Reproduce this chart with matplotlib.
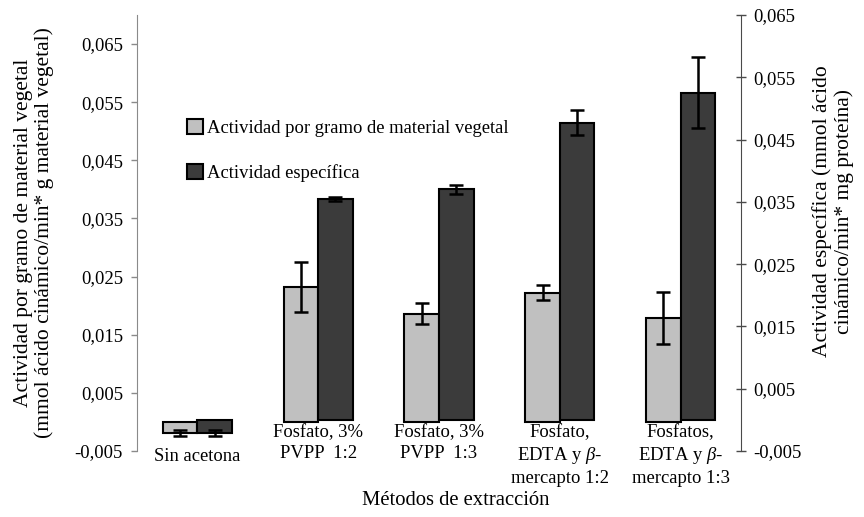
import numpy as np
import matplotlib
matplotlib.use("Agg")
import matplotlib.pyplot as plt
from matplotlib.patches import Patch
from matplotlib.ticker import FixedLocator, FuncFormatter

plt.rcParams['font.family'] = ['Liberation Serif', 'DejaVu Serif']
plt.rcParams['mathtext.fontset'] = 'custom'
plt.rcParams['mathtext.it'] = 'Liberation Serif:italic'
plt.rcParams['mathtext.rm'] = 'Liberation Serif'

# metodos de extraccion
metodos = ["Sin acetona",
           "Fosfato, 3%\nPVPP  1:2",
           "Fosfato, 3%\nPVPP  1:3",
           "Fosfato,\nEDTA y $\\beta$-\nmercapto 1:2",
           "Fosfatos,\nEDTA y $\\beta$-\nmercapto 1:3"]

# actividad por gramo de material vegetal (eje izquierdo)
act_gramo = [-0.0019, 0.0232, 0.0186, 0.0222, 0.0179]
err_gramo = [0.0005, 0.0043, 0.0018, 0.0013, 0.0045]

# actividad especifica (eje derecho)
act_espec = [-0.0021, 0.0355, 0.0370, 0.0477, 0.0525]
err_espec = [0.0005, 0.0003, 0.0007, 0.0020, 0.0057]

ticks_izq = [-0.005, 0.005, 0.015, 0.025, 0.035, 0.045, 0.055, 0.065]
ticks_der = [-0.005, 0.005, 0.015, 0.025, 0.035, 0.045, 0.055, 0.065]

gris_claro = "#c0c0c0"
gris_oscuro = "#3b3b3b"
fs = 13.4
fs_tit = 15.5

fig = plt.figure(figsize=(8.64, 5.17), dpi=100)
ax = fig.add_axes([137 / 864, 1 - 451 / 517, (741 - 137) / 864, (451 - 15) / 517])
ax2 = ax.twinx()

x = np.arange(len(metodos))
w = 0.286
ekw = dict(ecolor="black", elinewidth=1.8, capsize=5, capthick=1.8)

ax.bar(x - w / 2, act_gramo, w, color=gris_claro, edgecolor="black", linewidth=1.5,
       yerr=err_gramo, error_kw=ekw, zorder=2)
ax2.bar(x + w / 2, act_espec, w, color=gris_oscuro, edgecolor="black", linewidth=1.5,
        yerr=err_espec, error_kw=ekw, zorder=2)

ax.set_xlim(-0.5, len(metodos) - 0.5)
ax.set_ylim(-0.005, 0.070)
ax2.set_ylim(-0.005, 0.065)

coma = FuncFormatter(lambda v, p: ("%.3f" % v).replace(".", ","))
ax.yaxis.set_major_locator(FixedLocator(ticks_izq))
ax.yaxis.set_major_formatter(coma)
ax2.yaxis.set_major_locator(FixedLocator(ticks_der))
ax2.yaxis.set_major_formatter(coma)

for a in (ax, ax2):
    a.patch.set_visible(False)
    a.spines['top'].set_visible(False)
    a.spines['bottom'].set_visible(False)
    a.set_xticks([])
ax.spines['right'].set_visible(False)
ax2.spines['left'].set_visible(False)
ax.spines['left'].set_color("#8a8a8a")
ax2.spines['right'].set_color("#4a4a4a")
ax.tick_params(axis='y', direction='out', length=4, width=1, color="#8a8a8a",
               labelsize=fs, pad=6)
ax2.tick_params(axis='y', direction='inout', length=7, width=1, color="#4a4a4a",
                labelsize=fs, pad=5)

# etiquetas de categoria bajo las barras
for i, lab in enumerate(metodos):
    ytop = 448 if i == 0 else 424
    fig.text((137 + (i + 0.5) * (741 - 137) / len(metodos)) / 864, 1 - ytop / 517, lab,
             ha="center", va="top", fontsize=fs, linespacing=1.27)

fig.text(456 / 864, 1 - 505 / 517, "Métodos de extracción", ha="center", va="baseline",
         fontsize=fs + 1.5)

fig.text(34 / 864, 1 - 233 / 517,
         "Actividad por gramo de material vegetal\n(mmol ácido cinámico/min* g material vegetal)",
         rotation=90, ha="center", va="center", fontsize=fs_tit, linespacing=1.15)
fig.text(833 / 864, 1 - 211 / 517,
         "Actividad específica (mmol ácido\ncinámico/min* mg proteína)",
         rotation=90, ha="center", va="center", fontsize=fs_tit, linespacing=1.15)

handles = [Patch(facecolor=gris_claro, edgecolor="black", linewidth=1.5),
           Patch(facecolor=gris_oscuro, edgecolor="black", linewidth=1.5)]
fig.legend(handles, ["Actividad por gramo de material vegetal", "Actividad específica"],
           loc="upper left", bbox_to_anchor=(187 / 864, 1 - 119 / 517),
           frameon=False, fontsize=fs, handlelength=0.85, handleheight=0.85,
           handletextpad=0.25, labelspacing=1.45, borderpad=0, borderaxespad=0)

fig.savefig("out.png", dpi=100)
